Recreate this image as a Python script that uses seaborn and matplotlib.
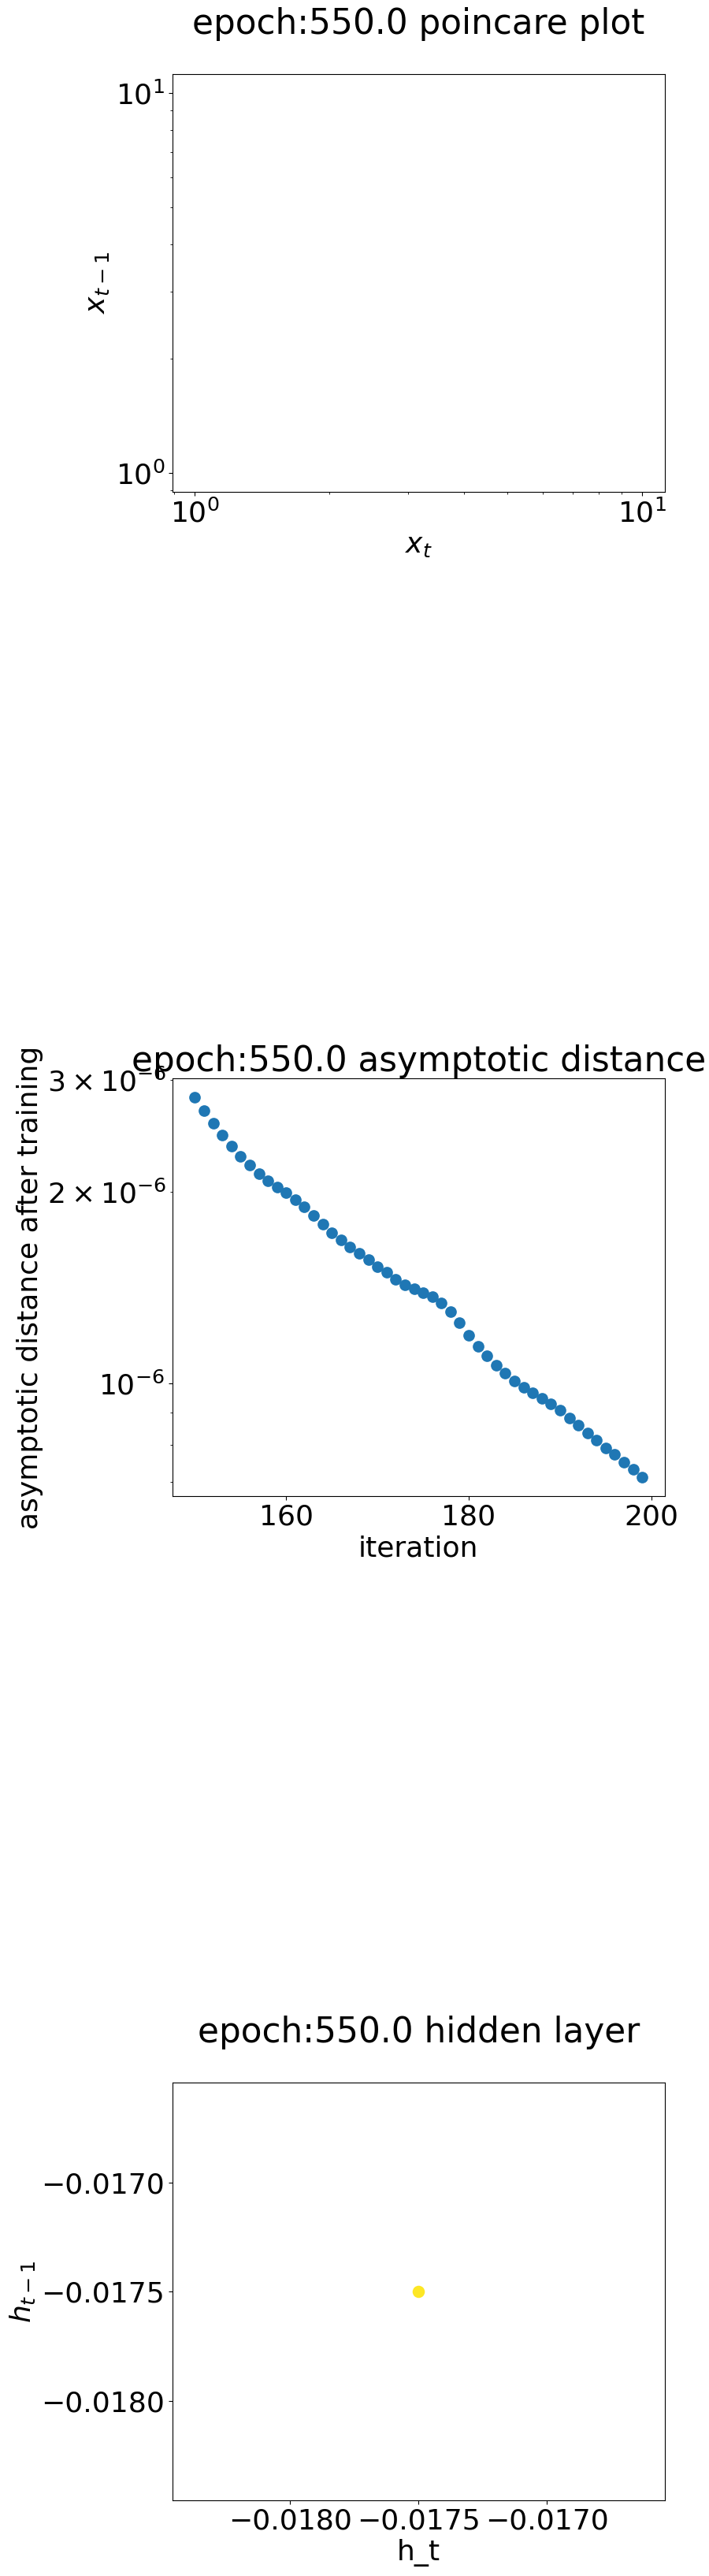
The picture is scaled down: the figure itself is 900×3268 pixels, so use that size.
import numpy as np
import pandas as pd
import seaborn as sns
import matplotlib
matplotlib.use("Agg")
import matplotlib.pyplot as plt

# data
epoch = 550.0

iterations = list(range(150, 200))
asym_dist = [2.815, 2.681, 2.563, 2.457, 2.358, 2.273, 2.203, 2.135, 2.080, 2.033,
             1.997, 1.946, 1.896, 1.835, 1.779, 1.726, 1.680, 1.639, 1.602, 1.565,
             1.527, 1.494, 1.458, 1.429, 1.407, 1.388, 1.368, 1.339, 1.297, 1.247,
             1.192, 1.144, 1.105, 1.069, 1.037, 1.009, 0.9865, 0.968, 0.948, 0.929,
             0.909, 0.882, 0.859, 0.835, 0.814, 0.793, 0.773, 0.753, 0.734, 0.713]
asym_dist = [v * 1e-6 for v in asym_dist]

h_t = [-0.0175]
h_prev = [-0.0175]

plt.rcParams['font.family'] = ['DejaVu Sans']
plt.rcParams['xtick.labelsize'] = 26
plt.rcParams['ytick.labelsize'] = 26
plt.rcParams['axes.labelsize'] = 26
plt.rcParams['axes.titlesize'] = 31.5

fig, axes = plt.subplots(3, 1, figsize=(9, 32.68), dpi=100)
fig.subplots_adjust(left=219/900, right=843.6/900, top=1-94/3268,
                    bottom=1-3172/3268, hspace=1.405)

# poincare plot (empty, log-log)
ax = axes[0]
ax.set_xscale('log')
ax.set_yscale('log')
ax.set_xlim(10**-0.05, 10**1.05)
ax.set_ylim(10**-0.05, 10**1.05)
ax.set_xlabel('$x_t$')
ax.set_ylabel('$x_{t-1}$')
ax.set_title(f'epoch:{epoch} poincare plot', pad=37)

# asymptotic distance
ax = axes[1]
df = pd.DataFrame({'iteration': iterations, 'dist': asym_dist})
sns.scatterplot(data=df, x='iteration', y='dist', ax=ax, s=112,
                color='#1f77b4', linewidth=0)
ax.set_yscale('log')
ax.set_xlabel('iteration')
ax.set_ylabel('asymptotic distance after training')
ax.set_title(f'epoch:{epoch} asymptotic distance')

# hidden layer
ax = axes[2]
sns.scatterplot(x=h_t, y=h_prev, ax=ax, s=125, color='#fde725', linewidth=0)
ax.set_xlim(-0.0175 - 0.000957, -0.0175 + 0.000957)
ax.set_ylim(-0.0175 - 0.000957, -0.0175 + 0.000957)
ax.set_xticks([-0.0180, -0.0175, -0.0170])
ax.set_yticks([-0.0180, -0.0175, -0.0170])
ax.ticklabel_format(useOffset=False)
ax.set_xlabel('h_t')
ax.set_ylabel('$h_{t-1}$')
ax.set_title(f'epoch:{epoch} hidden layer', pad=37)

fig.savefig('out.png', dpi=100)
